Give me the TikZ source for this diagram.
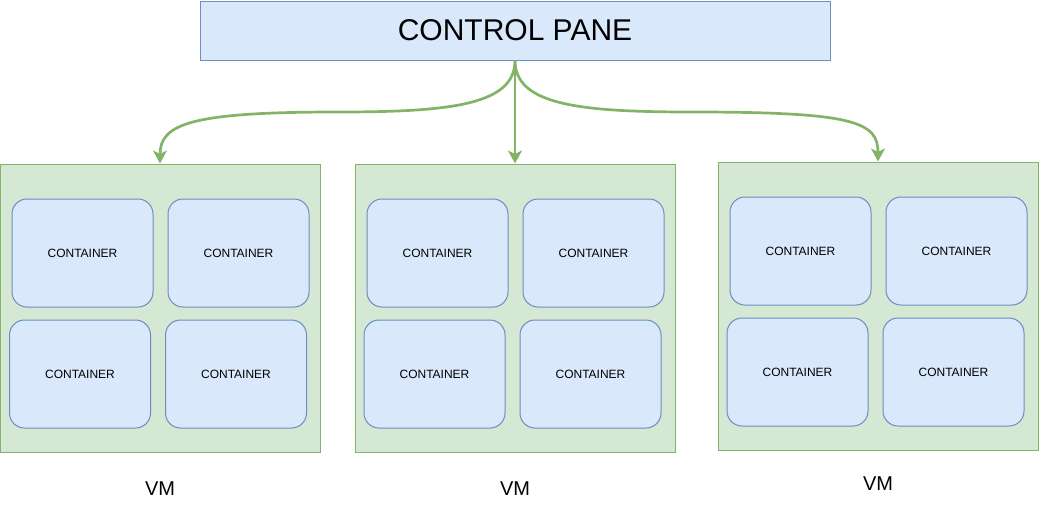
\documentclass[tikz,border=0pt]{standalone}
\usepackage{fontspec}
\setmainfont{Liberation Sans}
\usetikzlibrary{arrows.meta}
\definecolor{gfill}{HTML}{D5E8D4}
\definecolor{gline}{HTML}{82B366}
\definecolor{bfill}{HTML}{DAE8FC}
\definecolor{bline}{HTML}{6C8EBF}
\begin{document}
\begin{tikzpicture}[x=1pt,y=-1pt,
  cpbox/.style={draw=bline,fill=bfill,line width=1pt,minimum width=630pt,minimum height=59pt,inner sep=0pt,font=\fontsize{30}{36}\selectfont},
  vmbox/.style={draw=gline,fill=gfill,line width=1pt,minimum width=320pt,minimum height=288pt,inner sep=0pt},
  cont/.style={draw=bline,fill=bfill,line width=1pt,rounded corners=15pt,minimum width=141pt,minimum height=108pt,inner sep=0pt,font=\fontsize{12}{14}\selectfont},
  vmlabel/.style={inner sep=0pt,font=\fontsize{20}{24}\selectfont},
  link/.style={draw=gline,line width=2.7pt,-{Stealth[length=13pt,width=14pt,inset=3.5pt]}}]
\useasboundingbox (0,0) rectangle (1039,504);
% control pane
\node[cpbox] (cp) at (515,30.5) {CONTROL PANE};
% VMs
\node[vmbox] (vm1) at (160,308) {};
\node[vmbox] (vm2) at (515,308) {};
\node[vmbox] (vm3) at (878,306) {};
% containers VM1
\node[cont] (c11) at (82.5,253) {CONTAINER};
\node[cont] (c12) at (238.5,253) {CONTAINER};
\node[cont] (c13) at (80,374) {CONTAINER};
\node[cont] (c14) at (236,374) {CONTAINER};
% containers VM2
\node[cont] (c21) at (437.5,253) {CONTAINER};
\node[cont] (c22) at (593.5,253) {CONTAINER};
\node[cont] (c23) at (434.5,374) {CONTAINER};
\node[cont] (c24) at (590.5,374) {CONTAINER};
% containers VM3
\node[cont] (c31) at (800.5,251) {CONTAINER};
\node[cont] (c32) at (956.5,251) {CONTAINER};
\node[cont] (c33) at (797.5,372) {CONTAINER};
\node[cont] (c34) at (953.5,372) {CONTAINER};
% labels
\node[vmlabel] (l1) at (160,489) {VM};
\node[vmlabel] (l2) at (515,489) {VM};
\node[vmlabel] (l3) at (878,484) {VM};
% connectors
\coordinate (bl) at (338,112);
\coordinate (br) at (692,112);
\draw[link] (cp.south) .. controls (515,105) and (450,112) .. (bl) .. controls (190,112) and (160,124) .. (vm1.north);
\draw[link] (cp.south) -- (vm2.north);
\draw[link] (cp.south) .. controls (515,105) and (580,112) .. (br) .. controls (855,112) and (878,122) .. (vm3.north);
\end{tikzpicture}
\end{document}
